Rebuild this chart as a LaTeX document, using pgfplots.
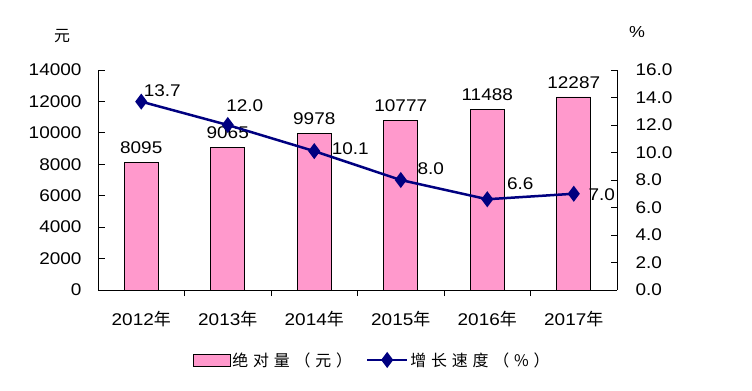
\documentclass[border=0pt]{standalone}
\usepackage{fontspec}
\setmainfont{Liberation Sans}[FakeStretch=1.12]
\newfontfamily\cjk{Noto Sans CJK SC}
\newfontfamily\cjkls{Noto Sans CJK SC}[LetterSpace=30]
\usepackage{pgfplots}
\pgfplotsset{compat=1.18}
\definecolor{barpink}{RGB}{255,153,204}
\definecolor{navyline}{RGB}{0,0,128}
\pgfplotsset{linelegend/.style={legend image code/.code={\draw[##1, mark repeat=2, mark phase=2] plot coordinates {(0bp,0bp) (20bp,0bp) (40bp,0bp)};}}}
\pgfplotstableread{
x val
0 8095
1 9065
2 9978
3 10777
4 11488
5 12287
}\bartable
\pgfplotstableread{
x val dx dy
0 13.7 21 11
1 12.0 17 19
2 10.1 36 2
3 8.0 30 11
4 6.6 33 16
5 7.0 28 -1
}\linetable
\begin{document}
\begin{tikzpicture}[x=1bp,y=1bp]
\path[use as bounding box] (0,0) rectangle (752,390);
\pgfplotsset{
  common/.style={
    at={(98bp,100bp)}, anchor=south west,
    scale only axis, width=519bp, height=220bp,
    xmin=-0.5, xmax=5.5,
    clip=false,
    tick align=inside,
    major tick length=6.5bp, minor tick length=6bp,
    tick style={black, line width=0.8bp},
    axis line style={black, line width=0.8bp},
    /pgf/number format/assume math mode=true,
    tick label style={font=\fontsize{17}{18}\selectfont},
  }
}
\begin{axis}[common,
  ymin=0, ymax=14000,
  axis y line*=left, axis x line*=bottom,
  xtick={0,...,5},
  xticklabels={2012{\cjk 年},2013{\cjk 年},2014{\cjk 年},2015{\cjk 年},2016{\cjk 年},2017{\cjk 年}},
  major x tick style={draw=none},
  minor xtick={0.5,1.5,2.5,3.5,4.5},
  xticklabel style={yshift=-11bp},
  ytick={0,2000,...,14000},
  scaled y ticks=false,
  yticklabel style={xshift=-13bp, /pgf/number format/1000 sep={}},
  ybar, bar width=34bp,
  nodes near coords,
  nodes near coords style={font=\fontsize{17}{18}\selectfont, black, yshift=5bp, /pgf/number format/1000 sep={}, /pgf/number format/assume math mode=true},
]
\addplot[fill=barpink, draw=black, line width=0.8bp] table[x=x,y=val] {\bartable};
\end{axis}
\begin{axis}[common,
  ymin=0, ymax=16,
  axis y line*=right, axis x line=none,
  xtick=\empty,
  ytick={0,2,...,16},
  yticklabel style={xshift=15bp, /pgf/number format/.cd, fixed, fixed zerofill, precision=1, assume math mode=true},
  legend style={draw=none, fill=none, at={(axis description cs:0.528,-0.318)}, anchor=center,
    legend columns=2, font=\fontsize{16}{18}\selectfont,
    /tikz/every even column/.append style={column sep=12bp}},
]
\addlegendimage{legend image code/.code={\draw[fill=barpink, draw=black, line width=0.8bp] (0bp,-6bp) rectangle (37bp,6bp);}}
\addlegendentry{\cjkls 绝对量（元）}
\addplot[navyline, line width=2.5bp, mark=diamond*, mark size=6bp, mark options={solid, fill=navyline},
  linelegend,
  visualization depends on={\thisrow{dx} \as \dx},
  visualization depends on={\thisrow{dy} \as \dy},
  nodes near coords={\pgfmathprintnumber[fixed, fixed zerofill, precision=1, assume math mode=true]{\pgfplotspointmeta}},
  nodes near coords style={anchor=center, black, font=\fontsize{17}{18}\selectfont, xshift={\dx*1bp}, yshift={\dy*1bp}},
] table[x=x,y=val] {\linetable};
\addlegendentry{\cjkls 增长速度（\%）}
\end{axis}
\node[font=\fontsize{16}{18}\selectfont\cjk] at (62,354) {元};
\node[font=\fontsize{16}{18}\selectfont] at (637,358) {\%};
\end{tikzpicture}
\end{document}
